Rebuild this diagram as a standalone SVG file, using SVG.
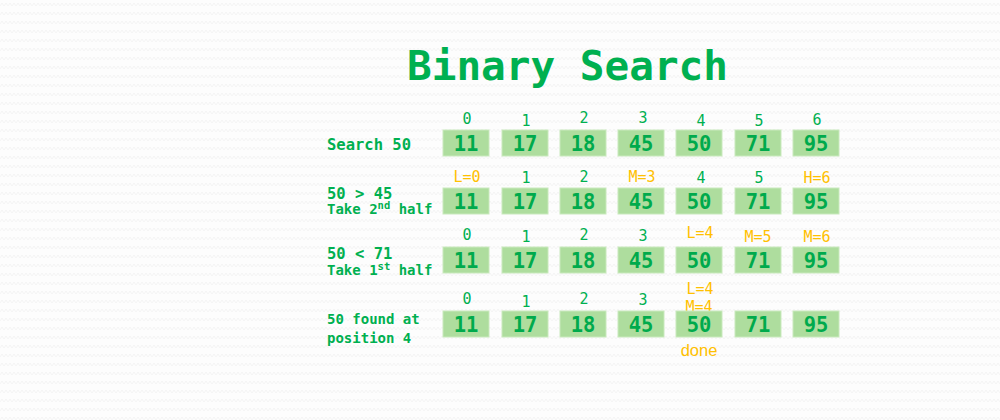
<svg xmlns="http://www.w3.org/2000/svg" width="1000" height="420" viewBox="0 0 1000 420">
<defs>
<pattern id="zz" width="8" height="9" patternUnits="userSpaceOnUse">
<path d="M0 6 L2 3 L4 6 L6 3 L8 6" fill="none" stroke="#f4f4f4" stroke-width="1"/>
</pattern>
<style>
.t{font-family:"DejaVu Sans Mono","Liberation Mono",monospace;}
.title{font-size:41px;font-weight:bold;fill:#00b050;}
.box{fill:#aedd9e;stroke:#c9e9bd;stroke-width:1;}
.num{font-size:20.5px;font-weight:bold;fill:#00aa4c;text-anchor:middle;}
.idx{font-size:15px;fill:#00b050;text-anchor:middle;}
.ptr{font-size:15px;fill:#ffc000;text-anchor:middle;}
.lab{font-size:15.5px;font-weight:bold;fill:#00b050;}
.sub{font-size:14px;font-weight:bold;fill:#00b050;}
.sup{font-size:10.5px;}
.done{font-family:"Liberation Sans",Arial,sans-serif;font-size:16.5px;fill:#ffc000;text-anchor:middle;}
</style>
</defs>
<rect width="1000" height="420" fill="#fdfdfd"/>
<rect width="1000" height="420" fill="url(#zz)"/>
<text class="t title" x="567.5" y="80" text-anchor="middle">Binary Search</text>

<g id="labels">
<text class="t lab" x="327" y="150">Search 50</text>
<text class="t lab" x="327" y="199">50 &gt; 45</text>
<text class="t sub" x="327" y="214">Take 2<tspan class="sup" dy="-5">nd</tspan><tspan dy="5"> half</tspan></text>
<text class="t lab" x="327" y="259">50 &lt; 71</text>
<text class="t sub" x="327" y="275">Take 1<tspan class="sup" dy="-5">st</tspan><tspan dy="5"> half</tspan></text>
<text class="t sub" x="327" y="324">50 found at</text>
<text class="t sub" x="327" y="343">position 4</text>
</g>

<g id="row1-index">
<text class="t idx" x="467" y="124">0</text>
<text class="t idx" x="526" y="126">1</text>
<text class="t idx" x="584" y="123">2</text>
<text class="t idx" x="643" y="123">3</text>
<text class="t idx" x="701" y="126">4</text>
<text class="t idx" x="759" y="126">5</text>
<text class="t idx" x="817" y="125">6</text>
</g>
<g id="row2-index">
<text class="t ptr" x="467" y="182">L=0</text>
<text class="t idx" x="526" y="183">1</text>
<text class="t idx" x="584" y="182">2</text>
<text class="t ptr" x="642" y="182">M=3</text>
<text class="t idx" x="701" y="183">4</text>
<text class="t idx" x="759" y="183">5</text>
<text class="t ptr" x="817" y="183">H=6</text>
</g>
<g id="row3-index">
<text class="t idx" x="467" y="240">0</text>
<text class="t idx" x="526" y="242">1</text>
<text class="t idx" x="584" y="240">2</text>
<text class="t idx" x="643" y="241">3</text>
<text class="t ptr" x="700" y="238">L=4</text>
<text class="t ptr" x="758" y="242">M=5</text>
<text class="t ptr" x="817" y="242">M=6</text>
</g>
<g id="row4-index">
<text class="t idx" x="467" y="304">0</text>
<text class="t idx" x="526" y="307">1</text>
<text class="t idx" x="584" y="304">2</text>
<text class="t idx" x="643" y="305">3</text>
<text class="t ptr" x="700" y="294">L=4</text>
<text class="t ptr" x="699" y="312">M=4</text>
</g>

<g id="row1">
<g id="r1c0"><rect class="box" x="443" y="130" width="46" height="26"/><text class="t num" x="466" y="151">11</text></g>
<g id="r1c1"><rect class="box" x="502" y="130" width="46" height="26"/><text class="t num" x="525" y="151">17</text></g>
<g id="r1c2"><rect class="box" x="560" y="130" width="46" height="26"/><text class="t num" x="583" y="151">18</text></g>
<g id="r1c3"><rect class="box" x="618" y="130" width="46" height="26"/><text class="t num" x="641" y="151">45</text></g>
<g id="r1c4"><rect class="box" x="676" y="130" width="46" height="26"/><text class="t num" x="699" y="151">50</text></g>
<g id="r1c5"><rect class="box" x="735" y="130" width="46" height="26"/><text class="t num" x="758" y="151">71</text></g>
<g id="r1c6"><rect class="box" x="793" y="130" width="46" height="26"/><text class="t num" x="816" y="151">95</text></g>
</g>
<g id="row2">
<g id="r2c0"><rect class="box" x="443" y="188" width="46" height="26"/><text class="t num" x="466" y="209">11</text></g>
<g id="r2c1"><rect class="box" x="502" y="188" width="46" height="26"/><text class="t num" x="525" y="209">17</text></g>
<g id="r2c2"><rect class="box" x="560" y="188" width="46" height="26"/><text class="t num" x="583" y="209">18</text></g>
<g id="r2c3"><rect class="box" x="618" y="188" width="46" height="26"/><text class="t num" x="641" y="209">45</text></g>
<g id="r2c4"><rect class="box" x="676" y="188" width="46" height="26"/><text class="t num" x="699" y="209">50</text></g>
<g id="r2c5"><rect class="box" x="735" y="188" width="46" height="26"/><text class="t num" x="758" y="209">71</text></g>
<g id="r2c6"><rect class="box" x="793" y="188" width="46" height="26"/><text class="t num" x="816" y="209">95</text></g>
</g>
<g id="row3">
<g id="r3c0"><rect class="box" x="443" y="247" width="46" height="26"/><text class="t num" x="466" y="268">11</text></g>
<g id="r3c1"><rect class="box" x="502" y="247" width="46" height="26"/><text class="t num" x="525" y="268">17</text></g>
<g id="r3c2"><rect class="box" x="560" y="247" width="46" height="26"/><text class="t num" x="583" y="268">18</text></g>
<g id="r3c3"><rect class="box" x="618" y="247" width="46" height="26"/><text class="t num" x="641" y="268">45</text></g>
<g id="r3c4"><rect class="box" x="676" y="247" width="46" height="26"/><text class="t num" x="699" y="268">50</text></g>
<g id="r3c5"><rect class="box" x="735" y="247" width="46" height="26"/><text class="t num" x="758" y="268">71</text></g>
<g id="r3c6"><rect class="box" x="793" y="247" width="46" height="26"/><text class="t num" x="816" y="268">95</text></g>
</g>
<g id="row4">
<g id="r4c0"><rect class="box" x="443" y="311" width="46" height="26"/><text class="t num" x="466" y="332">11</text></g>
<g id="r4c1"><rect class="box" x="502" y="311" width="46" height="26"/><text class="t num" x="525" y="332">17</text></g>
<g id="r4c2"><rect class="box" x="560" y="311" width="46" height="26"/><text class="t num" x="583" y="332">18</text></g>
<g id="r4c3"><rect class="box" x="618" y="311" width="46" height="26"/><text class="t num" x="641" y="332">45</text></g>
<g id="r4c4"><rect class="box" x="676" y="311" width="46" height="26"/><text class="t num" x="699" y="332">50</text></g>
<g id="r4c5"><rect class="box" x="735" y="311" width="46" height="26"/><text class="t num" x="758" y="332">71</text></g>
<g id="r4c6"><rect class="box" x="793" y="311" width="46" height="26"/><text class="t num" x="816" y="332">95</text></g>
</g>
<text class="done" x="699" y="356">done</text>
</svg>
